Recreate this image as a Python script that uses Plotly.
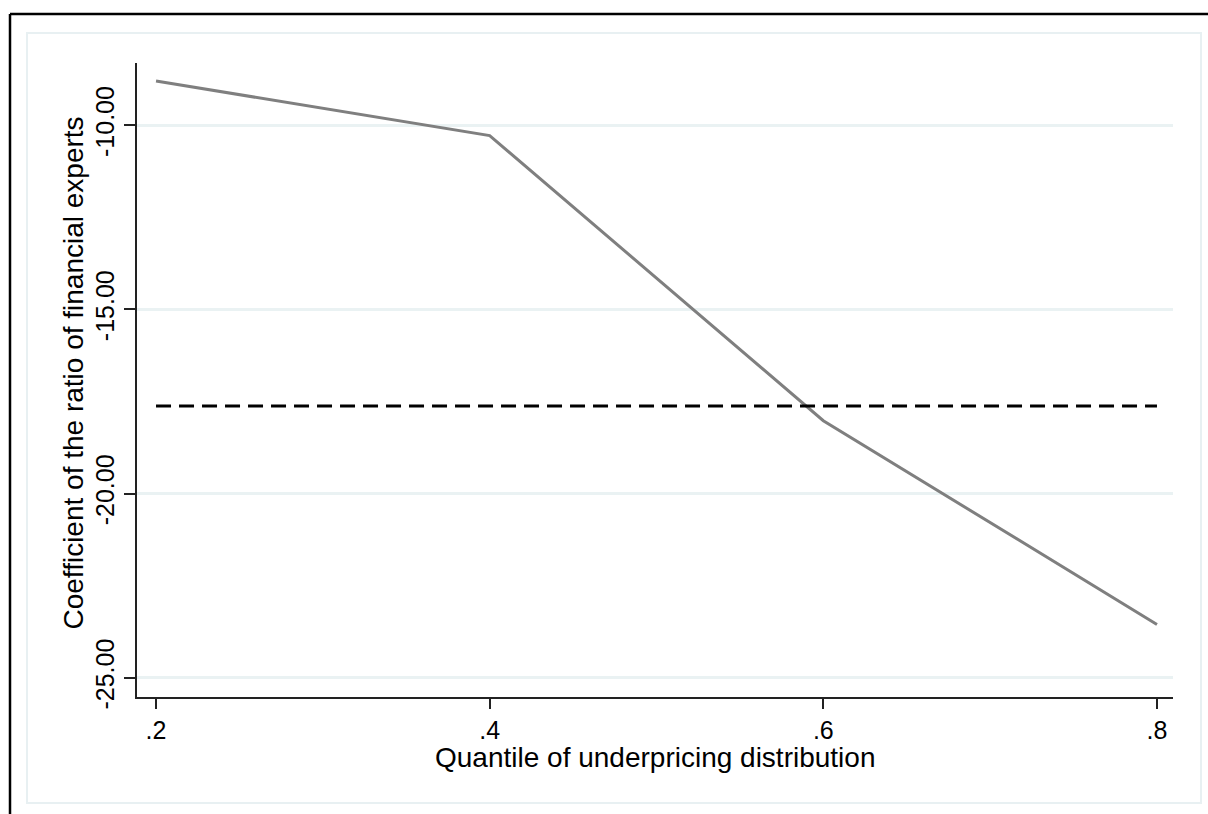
import plotly.graph_objects as go

# Data
quantiles = [0.2, 0.4, 0.6, 0.8]
coefficients = [-8.80, -10.28, -18.02, -23.55]
ols_coefficient = -17.62  # horizontal dashed reference line
x_tick_vals = [0.2, 0.4, 0.6, 0.8]
x_tick_text = [".2", ".4", ".6", ".8"]
y_tick_vals = [-25, -20, -15, -10]
y_tick_text = ["-25.00", "-20.00", "-15.00", "-10.00"]
x_title = "Quantile of underpricing distribution"
y_title = "Coefficient of the ratio of financial experts"

W, H = 1208, 814
L, R, T, B = 137, 1173, 63, 697  # plot area in pixels


def px_to_paper(px, py):
    return (px - L) / (R - L), (B - py) / (B - T)


fig = go.Figure()
fig.add_trace(go.Scatter(
    x=quantiles, y=coefficients, mode="lines",
    line=dict(color="#7f7f7f", width=3), showlegend=False, hoverinfo="skip"))
fig.add_trace(go.Scatter(
    x=[quantiles[0], quantiles[-1]], y=[ols_coefficient, ols_coefficient],
    mode="lines", line=dict(color="black", width=3, dash="15px,8px"),
    showlegend=False, hoverinfo="skip"))

font = "Liberation Sans, Arial, sans-serif"

# decorative frame shapes (paper coordinates computed from pixels)
x0, y0 = px_to_paper(27, 803)
x1, y1 = px_to_paper(1201, 33)
bx0, by0 = px_to_paper(10, 830)
bx1, by1 = px_to_paper(1230, 14)
shapes = [
    dict(type="rect", xref="paper", yref="paper", x0=x0, y0=y0, x1=x1, y1=y1,
         line=dict(color="#e8f0f2", width=2), layer="below"),
    dict(type="line", xref="paper", yref="paper", x0=bx0, y0=by1, x1=bx1, y1=by1,
         line=dict(color="black", width=2.5)),
    dict(type="line", xref="paper", yref="paper", x0=bx0, y0=by0, x1=bx0, y1=by1,
         line=dict(color="black", width=2.5)),
]

xt_x, xt_y = px_to_paper(655, 757)
yt_x, yt_y = px_to_paper(73, 373.5)
annotations = [
    dict(text=x_title, xref="paper", yref="paper", x=xt_x, y=xt_y,
         xanchor="center", yanchor="middle", showarrow=False, font=dict(size=28)),
    dict(text=y_title, xref="paper", yref="paper", x=yt_x, y=yt_y, textangle=-90,
         xanchor="center", yanchor="middle", showarrow=False, font=dict(size=28)),
]

fig.update_layout(
    width=W, height=H, autosize=False,
    margin=dict(l=L, r=W - R, t=T, b=H - B, pad=0),
    paper_bgcolor="white", plot_bgcolor="white",
    font=dict(family=font, color="black", size=25),
    shapes=shapes, annotations=annotations,
    xaxis=dict(
        range=[0.1886, 0.8096], tickvals=x_tick_vals, ticktext=x_tick_text,
        showgrid=False, zeroline=False, showline=True, linecolor="#222222", linewidth=1.5,
        ticks="outside", ticklen=10, tickwidth=1.5, tickcolor="#222222",
        tickfont=dict(size=25)),
    yaxis=dict(
        range=[-25.52, -8.31], tickvals=y_tick_vals, ticktext=y_tick_text,
        tickangle=-90, showgrid=True, gridcolor="#eaf2f3", gridwidth=2.5,
        zeroline=False, showline=True, linecolor="#222222", linewidth=1.5,
        ticks="outside", ticklen=11, tickwidth=1.5, tickcolor="#222222",
        tickfont=dict(size=25)),
)

fig.write_html("out.html", config={"displayModeBar": False},
               post_script="document.body.style.margin='0';document.body.style.overflow='hidden';")
